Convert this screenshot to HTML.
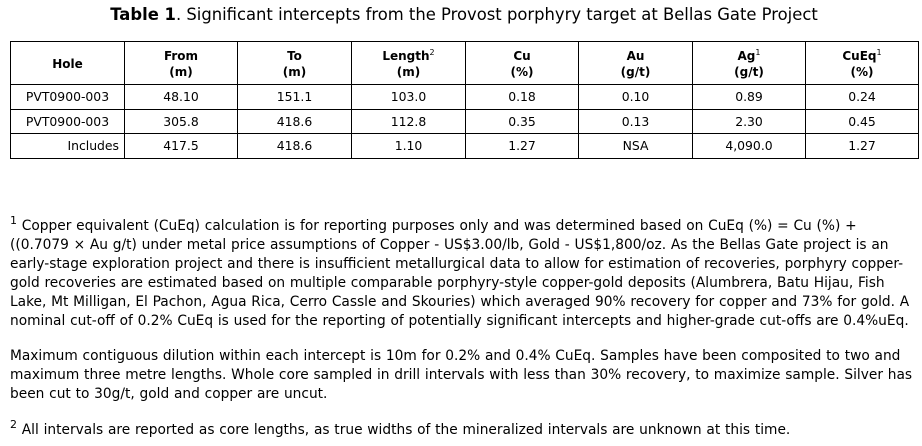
<!DOCTYPE html>
<html><head><meta charset="utf-8">
<style>
html,body{margin:0;padding:0;background:#fff;}
body{width:922px;height:446px;position:relative;overflow:hidden;font-family:"DejaVu Sans","Liberation Sans",sans-serif;color:#000;}
.title{position:absolute;left:10px;width:908px;top:5px;line-height:20px;font-size:16.4px;text-align:center;white-space:nowrap;}
.h{position:absolute;background:#000;height:1px;left:10px;width:909px;}
.v{position:absolute;background:#000;width:1px;top:41px;height:118px;}
.c{position:absolute;display:flex;align-items:center;justify-content:center;text-align:center;font-size:12.4px;line-height:14px;white-space:nowrap;}
.hd{font-weight:bold;font-size:12px;line-height:16.5px;padding-top:2px;box-sizing:border-box;}
.hd sup{font-size:8px;font-weight:normal;vertical-align:baseline;position:relative;top:-5px;line-height:0;}
.ln{position:absolute;left:10px;font-size:13.75px;word-spacing:0.4px;line-height:19px;white-space:nowrap;}
.ln sup{font-size:11px;line-height:0;vertical-align:baseline;position:relative;top:-6px;}
</style></head><body>
<div class="title"><b>Table 1</b>. Significant intercepts from the Provost porphyry target at Bellas Gate Project</div>

<div class="h" style="top:41px"></div>
<div class="h" style="top:84px"></div>
<div class="h" style="top:109px"></div>
<div class="h" style="top:133px"></div>
<div class="h" style="top:158px"></div>
<div class="v" style="left:10px"></div>
<div class="v" style="left:124px"></div>
<div class="v" style="left:237px"></div>
<div class="v" style="left:351px"></div>
<div class="v" style="left:465px"></div>
<div class="v" style="left:578px"></div>
<div class="v" style="left:692px"></div>
<div class="v" style="left:805px"></div>
<div class="v" style="left:918px"></div>

<!-- header -->
<div class="c hd" style="left:11px;width:113px;top:42px;height:42px;"><div>Hole</div></div>
<div class="c hd" style="left:125px;width:112px;top:42px;height:42px;"><div>From<br>(m)</div></div>
<div class="c hd" style="left:238px;width:113px;top:42px;height:42px;"><div>To<br>(m)</div></div>
<div class="c hd" style="left:352px;width:113px;top:42px;height:42px;"><div>Length<sup>2</sup><br>(m)</div></div>
<div class="c hd" style="left:466px;width:112px;top:42px;height:42px;"><div>Cu<br>(%)</div></div>
<div class="c hd" style="left:579px;width:113px;top:42px;height:42px;"><div>Au<br>(g/t)</div></div>
<div class="c hd" style="left:693px;width:112px;top:42px;height:42px;"><div>Ag<sup>1</sup><br>(g/t)</div></div>
<div class="c hd" style="left:806px;width:112px;top:42px;height:42px;"><div>CuEq<sup>1</sup><br>(%)</div></div>

<!-- row 1 -->
<div class="c" style="left:11px;width:113px;top:85px;height:24px;">PVT0900-003</div>
<div class="c" style="left:125px;width:112px;top:85px;height:24px;">48.10</div>
<div class="c" style="left:238px;width:113px;top:85px;height:24px;">151.1</div>
<div class="c" style="left:352px;width:113px;top:85px;height:24px;">103.0</div>
<div class="c" style="left:466px;width:112px;top:85px;height:24px;">0.18</div>
<div class="c" style="left:579px;width:113px;top:85px;height:24px;">0.10</div>
<div class="c" style="left:693px;width:112px;top:85px;height:24px;">0.89</div>
<div class="c" style="left:806px;width:112px;top:85px;height:24px;">0.24</div>

<!-- row 2 -->
<div class="c" style="left:11px;width:113px;top:110px;height:23px;">PVT0900-003</div>
<div class="c" style="left:125px;width:112px;top:110px;height:23px;">305.8</div>
<div class="c" style="left:238px;width:113px;top:110px;height:23px;">418.6</div>
<div class="c" style="left:352px;width:113px;top:110px;height:23px;">112.8</div>
<div class="c" style="left:466px;width:112px;top:110px;height:23px;">0.35</div>
<div class="c" style="left:579px;width:113px;top:110px;height:23px;">0.13</div>
<div class="c" style="left:693px;width:112px;top:110px;height:23px;">2.30</div>
<div class="c" style="left:806px;width:112px;top:110px;height:23px;">0.45</div>

<!-- row 3 -->
<div class="c" style="left:11px;width:108px;top:134px;height:24px;justify-content:flex-end;">Includes</div>
<div class="c" style="left:125px;width:112px;top:134px;height:24px;">417.5</div>
<div class="c" style="left:238px;width:113px;top:134px;height:24px;">418.6</div>
<div class="c" style="left:352px;width:113px;top:134px;height:24px;">1.10</div>
<div class="c" style="left:466px;width:112px;top:134px;height:24px;">1.27</div>
<div class="c" style="left:579px;width:113px;top:134px;height:24px;">NSA</div>
<div class="c" style="left:693px;width:112px;top:134px;height:24px;">4,090.0</div>
<div class="c" style="left:806px;width:112px;top:134px;height:24px;">1.27</div>

<!-- paragraph 1 -->
<div class="ln" style="top:217px"><sup>1</sup> Copper equivalent (CuEq) calculation is for reporting purposes only and was determined based on CuEq (%) = Cu (%) +</div>
<div class="ln" style="top:236px">((0.7079 × Au g/t) under metal price assumptions of Copper - US$3.00/lb, Gold - US$1,800/oz. As the Bellas Gate project is an</div>
<div class="ln" style="top:255px">early-stage exploration project and there is insufficient metallurgical data to allow for estimation of recoveries, porphyry copper-</div>
<div class="ln" style="top:274px">gold recoveries are estimated based on multiple comparable porphyry-style copper-gold deposits (Alumbrera, Batu Hijau, Fish</div>
<div class="ln" style="top:293px">Lake, Mt Milligan, El Pachon, Agua Rica, Cerro Cassle and Skouries) which averaged 90% recovery for copper and 73% for gold. A</div>
<div class="ln" style="top:312px">nominal cut-off of 0.2% CuEq is used for the reporting of potentially significant intercepts and higher-grade cut-offs are 0.4%uEq.</div>

<!-- paragraph 2 -->
<div class="ln" style="top:347px">Maximum contiguous dilution within each intercept is 10m for 0.2% and 0.4% CuEq. Samples have been composited to two and</div>
<div class="ln" style="top:366px">maximum three metre lengths. Whole core sampled in drill intervals with less than 30% recovery, to maximize sample. Silver has</div>
<div class="ln" style="top:385px">been cut to 30g/t, gold and copper are uncut.</div>

<!-- paragraph 3 -->
<div class="ln" style="top:421px"><sup>2</sup> All intervals are reported as core lengths, as true widths of the mineralized intervals are unknown at this time.</div>
</body></html>
